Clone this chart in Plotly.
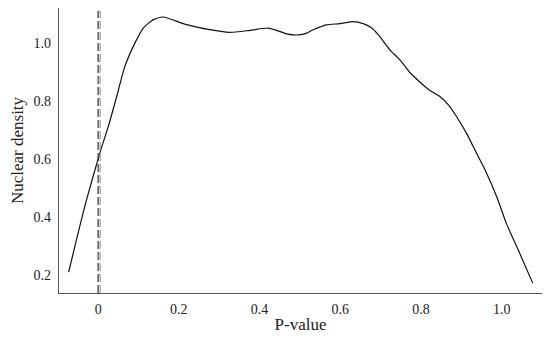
import plotly.graph_objects as go

# density curve
p_value = [-0.073, -0.054, -0.029, 0.004, 0.025, 0.046, 0.066, 0.091, 0.112, 0.136,
           0.161, 0.211, 0.227, 0.269, 0.326, 0.376, 0.421, 0.442, 0.467, 0.492,
           0.512, 0.533, 0.566, 0.599, 0.632, 0.657, 0.678, 0.694, 0.723, 0.748,
           0.773, 0.818, 0.847, 0.868, 0.888, 0.913, 0.938, 0.959, 0.988, 1.012,
           1.045, 1.077]
density = [0.211, 0.321, 0.459, 0.620, 0.712, 0.816, 0.919, 1.000, 1.052, 1.080,
           1.090, 1.067, 1.061, 1.048, 1.037, 1.044, 1.052, 1.044, 1.032, 1.028,
           1.032, 1.046, 1.063, 1.067, 1.074, 1.067, 1.052, 1.029, 0.977, 0.942,
           0.898, 0.841, 0.816, 0.787, 0.747, 0.689, 0.620, 0.563, 0.470, 0.378,
           0.275, 0.173]

# vertical reference lines
ref_lines = [0.0, 0.005]
ref_colors = ["#333333", "#999999"]

x_ticks = [0, 0.2, 0.4, 0.6, 0.8, 1.0]
x_ticktext = ["0", "0.2", "0.4", "0.6", "0.8", "1.0"]
y_ticks = [0.2, 0.4, 0.6, 0.8, 1.0]

fig = go.Figure()
fig.add_trace(go.Scatter(
    x=p_value, y=density, mode="lines",
    line=dict(color="#111111", width=1.2, shape="spline", smoothing=0.6),
    showlegend=False, hoverinfo="skip"
))

for xv, c in zip(ref_lines, ref_colors):
    fig.add_shape(type="line", x0=xv, x1=xv, xref="x", y0=0, y1=0.99, yref="paper",
                  line=dict(color=c, width=1.2, dash="8px,3px"))

font = dict(family="Liberation Serif, Times New Roman, serif", size=14, color="#222222")

# page body has an 8px margin, so the figure is a bit smaller than the window
fig.update_layout(
    width=542, height=331,
    margin=dict(l=51, r=8, t=0, b=46),
    paper_bgcolor="white", plot_bgcolor="white",
    font=font,
)
fig.update_xaxes(
    range=[-0.097, 1.100], tickvals=x_ticks, ticktext=x_ticktext, automargin=False,
    showgrid=False, zeroline=False, showline=True, linecolor="#555555", linewidth=1.2,
    ticks="", ticklabelstandoff=3, title=dict(text="P-value", standoff=2),
)
fig.update_yaxes(
    range=[0.139, 1.121], tickvals=y_ticks, tickformat=".1f", automargin=False,
    showgrid=False, zeroline=False, showline=True, linecolor="#555555", linewidth=1.2,
    ticks="", ticklabelstandoff=4, title=dict(text="Nuclear density", standoff=10),
)

fig.write_html("out.html")
